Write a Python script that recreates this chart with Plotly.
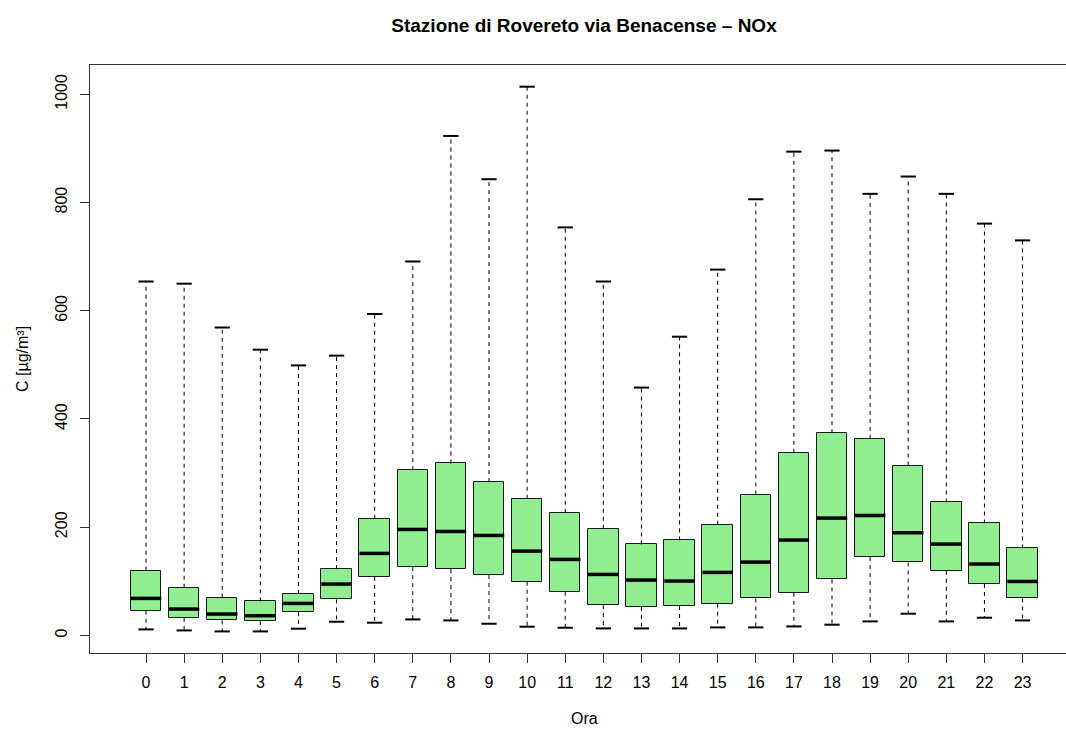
import plotly.graph_objects as go

hours = list(range(24))
tick_labels = [str(h) for h in hours]
q1 = [45.6, 32.7, 27.7, 26.5, 43.2, 66.5, 108.4, 126.3, 122.6, 111.5, 99.2, 80.7,
      56.1, 53.0, 54.3, 58.6, 68.3, 78.9, 103.4, 144.8, 134.8, 119.5, 94.9, 68.3]
median = [68.4, 48.7, 39.5, 36.4, 59.1, 94.9, 151.5, 195.8, 192.1, 184.7, 155.8, 140.4,
          112.7, 102.3, 100.5, 116.4, 135.5, 176.2, 216.8, 221.6, 189.7, 168.8, 131.9, 99.7]
q3 = [119.5, 88.1, 69.6, 62.8, 76.4, 122.6, 215.5, 305.4, 317.7, 283.3, 252.5, 226.6,
      197.1, 168.1, 175.5, 204.5, 260.4, 337.5, 373.8, 363.3, 314.0, 245.7, 206.9, 160.7]
lower = [11.1, 9.2, 7.4, 7.4, 12.4, 25.3, 23.5, 29.6, 27.7, 21.6, 16.1, 14.2,
         12.9, 12.9, 12.9, 14.8, 14.8, 16.6, 19.8, 25.9, 40.1, 25.9, 32.7, 27.7]
upper = [654, 650, 569, 528, 499, 517, 594, 691, 923, 843, 1014, 754,
         654, 458, 552, 676, 806, 894, 896, 816, 848, 816, 761, 730]

title = "Stazione di Rovereto via Benacense – NOx"
xlab = "Ora"
ylab = "C [µg/m³]"

BOXW = 0.8
CAPW = 0.4
FONT = "Liberation Sans, Arial, Helvetica, sans-serif"

W, H = 1066, 731
L, R, T, B = 90, 0, 65, 78
PW, PH = W - L - R, H - T - B

fig = go.Figure()

# boxes
fig.add_trace(go.Bar(
    x=hours, y=[b - a for a, b in zip(q1, q3)], base=q1, width=BOXW,
    marker=dict(color="#90EE90", line=dict(color="#1a1a1a", width=1)),
    hoverinfo="skip", showlegend=False))

# whiskers (dashed)
wx, wy = [], []
for h, a, b, lo, hi in zip(hours, q1, q3, lower, upper):
    wx += [h, h, None, h, h, None]
    wy += [b, hi, None, a, lo, None]
fig.add_trace(go.Scatter(x=wx, y=wy, mode="lines",
                         line=dict(color="black", width=1, dash="4px,4px"),
                         hoverinfo="skip", showlegend=False))

# staples
cx, cy = [], []
for h, lo, hi in zip(hours, lower, upper):
    cx += [h - CAPW / 2, h + CAPW / 2, None, h - CAPW / 2, h + CAPW / 2, None]
    cy += [hi, hi, None, lo, lo, None]
fig.add_trace(go.Scatter(x=cx, y=cy, mode="lines",
                         line=dict(color="black", width=2),
                         hoverinfo="skip", showlegend=False))

# medians
mx, my = [], []
for h, m in zip(hours, median):
    mx += [h - BOXW / 2, h + BOXW / 2, None]
    my += [m, m, None]
fig.add_trace(go.Scatter(x=mx, y=my, mode="lines",
                         line=dict(color="black", width=3.5),
                         hoverinfo="skip", showlegend=False))

fig.update_layout(
    width=W, height=H,
    margin=dict(l=L, r=R, t=T, b=B),
    paper_bgcolor="white", plot_bgcolor="white",
    font=dict(family=FONT, size=16, color="black"),
    title=dict(text="<b>" + title + "</b>", x=584 / W, xref="container", xanchor="center",
               y=1 - 25 / H, yref="container", yanchor="middle",
               font=dict(size=19, family=FONT, color="black")),
    bargap=0,
    annotations=[
        dict(text=xlab, xref="paper", yref="paper",
             x=(584 - L) / PW, y=(H - B - 718) / PH,
             showarrow=False, xanchor="center", yanchor="middle", font=dict(size=16)),
        dict(text=ylab, xref="paper", yref="paper",
             x=(22 - L) / PW, y=(H - B - 359) / PH,
             showarrow=False, xanchor="center", yanchor="middle", textangle=-90,
             font=dict(size=16)),
    ],
)

fig.update_xaxes(range=[-1.47, 24.14], tickvals=hours, ticktext=tick_labels,
                 showline=True, linecolor="#333", linewidth=1, mirror=True,
                 ticks="outside", ticklen=9, tickcolor="#333", showgrid=False,
                 zeroline=False, tickfont=dict(size=16), ticklabelstandoff=6)
fig.update_yaxes(range=[-32.5, 1054.1], tickvals=[0, 200, 400, 600, 800, 1000],
                 showline=True, linecolor="#333", linewidth=1, mirror=False,
                 ticks="outside", ticklen=9, tickcolor="#333", showgrid=False,
                 zeroline=False, tickangle=-90, tickfont=dict(size=16),
                 ticklabelstandoff=7)

fig.write_html("out.html", config={"displayModeBar": False},
               post_script="document.body.style.margin='0';document.body.style.overflow='hidden';")
